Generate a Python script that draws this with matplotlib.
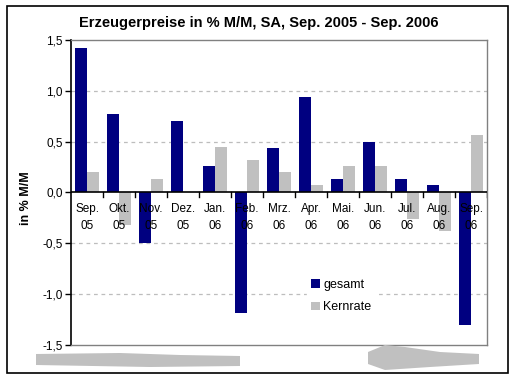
import matplotlib
matplotlib.use("Agg")
import matplotlib.pyplot as plt
from matplotlib.patches import Rectangle, Polygon, Ellipse
import numpy as np

categories = ["Sep.\n05", "Okt.\n05", "Nov.\n05", "Dez.\n05", "Jan.\n06", "Feb.\n06", "Mrz.\n06",
              "Apr.\n06", "Mai.\n06", "Jun.\n06", "Jul.\n06", "Aug.\n06", "Sep.\n06"]
gesamt = [1.42, 0.77, -0.50, 0.70, 0.26, -1.19, 0.44, 0.94, 0.13, 0.50, 0.13, 0.07, -1.30]
kernrate = [0.20, -0.32, 0.13, 0.00, 0.45, 0.32, 0.20, 0.07, 0.26, 0.26, -0.26, -0.38, 0.57]
yticks = [-1.5, -1.0, -0.5, 0.0, 0.5, 1.0, 1.5]
ytick_labels = ["-1,5", "-1,0", "-0,5", "0,0", "0,5", "1,0", "1,5"]

plt.rcParams['font.family'] = ['Liberation Sans', 'DejaVu Sans']

W, H = 517, 381
fig = plt.figure(figsize=(W / 100, H / 100), dpi=100)
fig.patch.set_facecolor("white")

# outer chart border
fig.add_artist(Rectangle((7 / W, 1 - 373 / H), (508 - 7) / W, (373 - 6) / H,
                         transform=fig.transFigure, fill=False, edgecolor="black", lw=1.2))

ax = fig.add_axes([71 / W, 1 - 345 / H, (487 - 71) / W, (345 - 40) / H])
x = np.arange(len(categories))
bw = 0.36
ax.bar(x - bw / 2, gesamt, bw, color="#000080", label="gesamt", zorder=3)
ax.bar(x + bw / 2, kernrate, bw, color="#C0C0C0", label="Kernrate", zorder=3)

ax.set_xlim(-0.5, len(categories) - 0.5)
ax.set_ylim(-1.5, 1.5)
ax.set_yticks(yticks)
ax.set_yticklabels(ytick_labels, fontsize=8.5)
ax.tick_params(axis="y", direction="out", length=4, width=1, pad=2, colors="black")
for v in yticks:
    if v not in (0.0, -1.5, 1.5):
        ax.axhline(v, color="#BDBDBD", lw=0.9, ls=(0, (3, 3)), zorder=1)

# category axis at zero
ax.axhline(0, color="black", lw=1.2, zorder=4)
ax.set_xticks([])
for b in np.arange(0.5, len(categories) - 0.5, 1.0):
    ax.plot([b, b], [0, -0.04], color="black", lw=1, zorder=4, clip_on=False)
ax.plot([len(categories) - 0.5] * 2, [0, -0.04], color="black", lw=1, zorder=4)
for i, c in enumerate(categories):
    ax.text(i, -0.10, c, ha="center", va="top", fontsize=8.5, linespacing=1.55, zorder=5)

for side in ["top", "right", "bottom"]:
    ax.spines[side].set_color("#808080")
    ax.spines[side].set_linewidth(1)
ax.spines["left"].set_color("black")
ax.spines["left"].set_linewidth(1.2)

fig.text(26 / W, 1 - 198 / H, "in % M/M", rotation=90, ha="center", va="center",
         fontsize=9, fontweight="bold")

leg = ax.legend(loc="upper left", bbox_to_anchor=(236 / 416, (345 - 275) / 305), frameon=True,
                fontsize=9, handlelength=0.7, handleheight=0.7, handletextpad=0.3,
                labelspacing=0.85, borderpad=0.3, borderaxespad=0)
leg.get_frame().set_edgecolor("white")
leg.get_frame().set_facecolor("white")
leg.get_frame().set_alpha(1)
leg.set_zorder(6)

fig.text(259 / W, 1 - 23 / H, "Erzeugerpreise in % M/M, SA, Sep. 2005 - Sep. 2006",
         ha="center", va="center", fontsize=10.5, fontweight="bold")

# redacted source smudges
fig.add_artist(Polygon([(36 / W, 1 - 354 / H), (120 / W, 1 - 353 / H), (180 / W, 1 - 355 / H), (240 / W, 1 - 356 / H),
                        (240 / W, 1 - 366 / H), (150 / W, 1 - 367 / H), (36 / W, 1 - 365 / H)],
                       transform=fig.transFigure, color="#C0C0C0", lw=0))
fig.add_artist(Polygon([(368 / W, 1 - 352 / H), (385 / W, 1 - 345 / H), (405 / W, 1 - 347 / H), (440 / W, 1 - 352 / H),
                        (479 / W, 1 - 354 / H), (479 / W, 1 - 364 / H), (430 / W, 1 - 367 / H),
                        (385 / W, 1 - 370 / H), (368 / W, 1 - 364 / H)],
                       transform=fig.transFigure, color="#C0C0C0", lw=0))

fig.savefig("out.png", dpi=100, facecolor="white")
